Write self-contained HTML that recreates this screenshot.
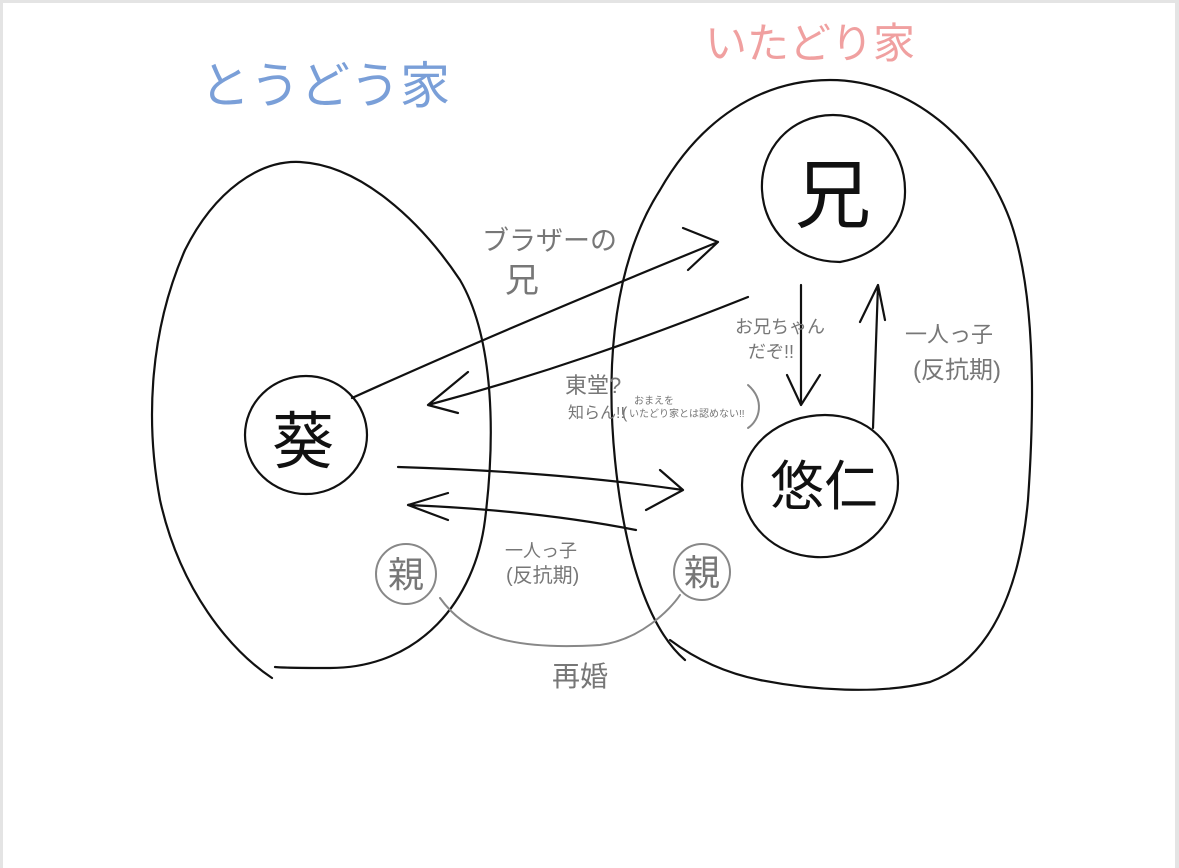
<!DOCTYPE html>
<html><head><meta charset="utf-8"><style>
html,body{margin:0;padding:0;background:#fff}
svg{display:block}
text{font-family:"Liberation Sans","Noto Sans CJK JP",sans-serif}
</style></head><body>
<svg width="1179" height="868" viewBox="0 0 1179 868" xmlns="http://www.w3.org/2000/svg">
<rect x="0" y="0" width="1179" height="868" fill="#e4e4e4"/>
<rect x="3" y="3" width="1172" height="868" fill="#fff"/>
<g fill="none" stroke="#111" stroke-width="2.2" stroke-linecap="round">
<path d="M272,678 C230,650 180,590 160,500 C145,420 150,330 185,250 C215,190 260,160 300,162 C360,165 420,220 460,280 C495,340 495,440 485,520 C475,600 420,668 330,668 C300,668 285,668 275,667"/>
<path d="M685,660 C650,630 625,560 615,460 C605,360 615,260 660,190 C700,120 760,80 830,80 C910,80 980,140 1010,220 C1035,290 1035,400 1028,500 C1020,590 990,660 930,682 C880,695 810,690 760,680 C720,672 690,655 670,640"/>
<path d="M840,262 C880,255 906,225 905,190 C905,150 875,115 833,115 C790,115 760,150 762,190 C764,230 795,262 840,262"/>
<ellipse cx="306" cy="435" rx="61" ry="59"/>
<path d="M815,557 C860,560 898,525 898,483 C898,445 868,415 825,415 C780,415 742,445 742,485 C742,525 775,555 815,557"/>
<path d="M352,398 C480,340 600,290 718,242 M718,242 L683,228 M718,242 L688,270"/>
<path d="M748,297 C640,340 540,375 428,405 M428,405 L468,372 M428,405 L458,413"/>
<path d="M398,467 C500,470 600,478 683,490 M683,490 L660,470 M683,490 L646,510"/>
<path d="M636,530 C560,515 480,508 408,505 M408,505 L448,493 M408,505 L448,520"/>
<path d="M801,285 L801,405 M801,405 L787,375 M801,405 L820,375"/>
<path d="M873,428 L878,285 M878,285 L860,322 M878,285 L885,320"/>
</g>
<g fill="none" stroke="#888" stroke-width="2" stroke-linecap="round">
<circle cx="406" cy="574" r="30"/>
<circle cx="702" cy="572" r="28"/>
<path d="M440,598 C470,640 520,650 600,645 C640,640 670,610 680,595"/>
<path d="M748,385 C765,400 760,420 748,428"/>
</g>
<text x="200" y="103" font-size="50" fill="#7a9fd8">とうどう家</text>
<text x="705" y="58" font-size="42" fill="#f0a0a0">いたどり家</text>
<text x="795" y="222" font-size="76" fill="#111">兄</text>
<text x="272" y="463" font-size="62" fill="#111">葵</text>
<text x="770" y="505" font-size="54" fill="#111">悠仁</text>
<g fill="#777">
<text x="482" y="250" font-size="27">ブラザーの</text>
<text x="505" y="292" font-size="34">兄</text>
<text x="735" y="333" font-size="18">お兄ちゃん</text>
<text x="748" y="358" font-size="18">だぞ!!</text>
<text x="565" y="393" font-size="22">東堂?</text>
<text x="568" y="418" font-size="16">知らん!!</text>
<text x="622" y="418" font-size="16">(</text>
<text x="634" y="404" font-size="10">おまえを</text>
<text x="629" y="417" font-size="10">いたどり家とは認めない!!</text>
<text x="905" y="342" font-size="22">一人っ子</text>
<text x="913" y="378" font-size="24">(反抗期)</text>
<text x="505" y="557" font-size="18">一人っ子</text>
<text x="506" y="582" font-size="20">(反抗期)</text>
<text x="552" y="686" font-size="28">再婚</text>
<text x="388" y="587" font-size="36">親</text>
<text x="684" y="585" font-size="36">親</text>
</g>
</svg>
</body></html>
